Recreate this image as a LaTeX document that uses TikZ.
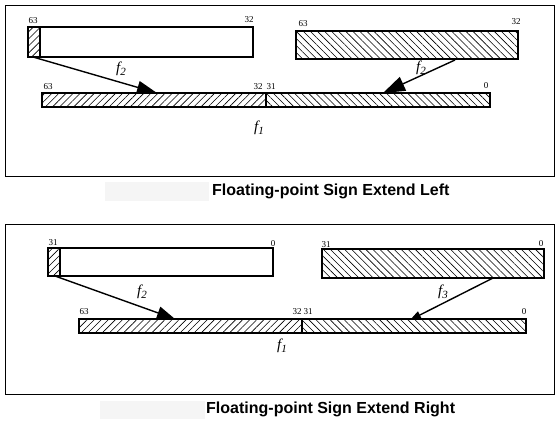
\documentclass[tikz,border=0pt]{standalone}
\usepackage{fontspec}
\setmainfont{Liberation Serif}
\newfontfamily\capfont{Liberation Sans}
\usetikzlibrary{arrows.meta,patterns.meta}
\newcommand{\fsub}[1]{f\raisebox{-3pt}{\fontsize{11}{12}\selectfont #1}}
\begin{document}
\begin{tikzpicture}[x=1pt,y=-1pt,
  frame/.style={draw,line width=1pt},
  reg/.style={draw,line width=1.8pt,inner sep=0pt,outer sep=0pt,anchor=north west},
  hne/.style={pattern={Lines[angle=45,distance=5pt,line width=0.6pt]}},
  hnw/.style={pattern={Lines[angle=-45,distance=5pt,line width=0.6pt]}},
  bit/.style={font=\fontsize{9}{10}\selectfont,inner sep=0pt},
  flab/.style={font=\fontsize{15}{16}\selectfont\itshape,inner sep=0pt},
  conn/.style={line width=1.4pt},
  capbg/.style={fill=black!4,draw=none,inner sep=0pt,anchor=north west},
  captxt/.style={font=\capfont\bfseries\fontsize{16}{18}\selectfont,inner sep=0pt,anchor=west}
]
\useasboundingbox (0,0) rectangle (560,421);
\fill[white] (0,0) rectangle (560,421);

% ---------- top panel ----------
\draw[frame] (5,5) rectangle (554,176);
\node[reg,hne,minimum width=12pt,minimum height=30pt] (a1h) at (28,27) {};
\node[reg,minimum width=213pt,minimum height=30pt] (a1) at (40,27) {};
\node[reg,hnw,minimum width=222pt,minimum height=28pt] (b1) at (296,31) {};
\node[reg,hne,minimum width=224pt,minimum height=14pt] (c1l) at (42,93) {};
\node[reg,hnw,minimum width=224pt,minimum height=14pt] (c1r) at (266,93) {};
\node[bit] (l1) at (33,21) {63};
\node[bit] (l2) at (249,20) {32};
\node[bit] (l3) at (303,24) {63};
\node[bit] (l4) at (516,22) {32};
\node[bit] (l5) at (48,87) {63};
\node[bit] (l6) at (258,87) {32};
\node[bit] (l7) at (271,87) {31};
\node[bit] (l8) at (486,86) {0};
\node[flab] (f2a) at (121,69) {\fsub{2}};
\node[flab] (f3a) at (421,68) {\fsub{2}};
\node[flab] (f1a) at (259,128) {\fsub{1}};
\coordinate (s1) at (33,57);
\coordinate (t1) at (157,93);
\coordinate (s2) at (455,60);
\coordinate (t2) at (383,93);
\draw[conn,-{Triangle[length=20pt,width=13pt]}] (s1) -- (t1);
\draw[conn,-{Triangle[length=22pt,width=15pt]}] (s2) -- (t2);
\node[capbg,minimum width=104pt,minimum height=19pt] (g1) at (105,182) {};
\node[captxt] (cap1) at (212,191.5) {Floating-point Sign Extend Left};

% ---------- bottom panel ----------
\draw[frame] (5,224) rectangle (554,394);
\node[reg,hne,minimum width=12pt,minimum height=28pt] (a2h) at (48,248) {};
\node[reg,minimum width=213pt,minimum height=28pt] (a2) at (60,248) {};
\node[reg,hnw,minimum width=222pt,minimum height=29pt] (b2) at (322,249) {};
\node[reg,hne,minimum width=223pt,minimum height=14pt] (c2l) at (79,319) {};
\node[reg,hnw,minimum width=224pt,minimum height=14pt] (c2r) at (302,319) {};
\node[bit] (m1) at (53,243) {31};
\node[bit] (m2) at (273,244) {0};
\node[bit] (m3) at (326,245) {31};
\node[bit] (m4) at (541,244) {0};
\node[bit] (m5) at (84,312) {63};
\node[bit] (m6) at (297,312) {32};
\node[bit] (m7) at (308,312) {31};
\node[bit] (m8) at (524,312) {0};
\node[flab] (f2b) at (142,292) {\fsub{2}};
\node[flab] (f3b) at (443,292) {\fsub{3}};
\node[flab] (f1b) at (282,346) {\fsub{1}};
\coordinate (s3) at (55,276);
\coordinate (t3) at (175,319);
\coordinate (s4) at (493,278);
\coordinate (t4) at (410,320);
\draw[conn,-{Triangle[length=18pt,width=13pt]}] (s3) -- (t3);
\draw[conn,-{Triangle[length=11pt,width=8pt]}] (s4) -- (t4);
\node[capbg,minimum width=105pt,minimum height=18pt] (g2) at (100,401) {};
\node[captxt] (cap2) at (206,409.5) {Floating-point Sign Extend Right};
\end{tikzpicture}
\end{document}
